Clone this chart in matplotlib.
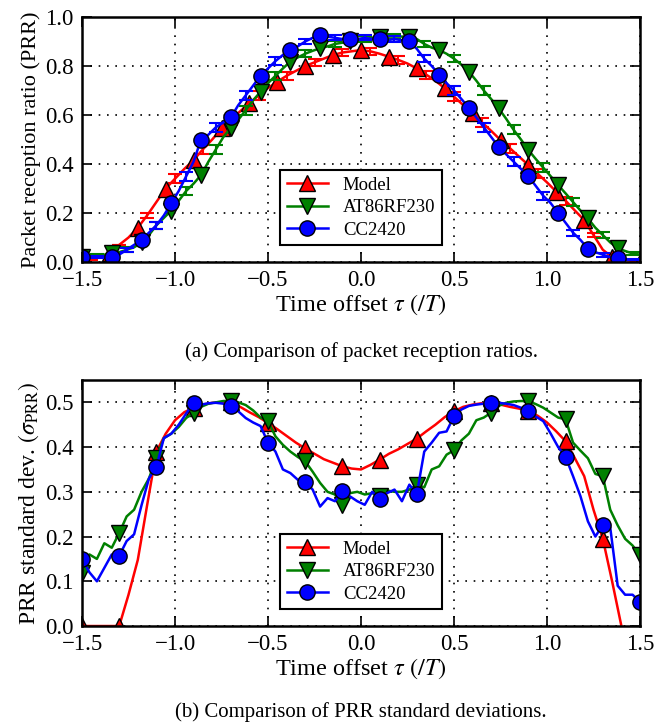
import numpy as np
import matplotlib.pyplot as plt

plt.rcParams['font.family'] = 'serif'
plt.rcParams['font.serif'] = ['Liberation Serif', 'DejaVu Serif']
plt.rcParams['mathtext.fontset'] = 'stix'

# model values on a 0.05 grid, measurements on a 0.04 grid
x_model = np.linspace(-1.5, 1.5, 61)
x_meas = np.linspace(-1.5, 1.5, 76)

# packet reception ratio
prr_model = [0.01, 0.01, 0.02, 0.035, 0.07, 0.10, 0.14, 0.19, 0.245, 0.30,
             0.34, 0.38, 0.416, 0.46, 0.50, 0.545, 0.58, 0.615, 0.648, 0.68,
             0.71, 0.736, 0.76, 0.78, 0.80, 0.815, 0.83, 0.845, 0.855, 0.86,
             0.865, 0.86, 0.85, 0.838, 0.825, 0.81, 0.79, 0.765, 0.74, 0.709,
             0.675, 0.64, 0.607, 0.57, 0.535, 0.498, 0.465, 0.43, 0.396, 0.36,
             0.325, 0.287, 0.25, 0.21, 0.171, 0.11, 0.05, 0.02, 0.01, 0.005,
             0.0]
prr_at86 = [0.02, 0.02, 0.025, 0.03, 0.035, 0.04, 0.05, 0.06,
            0.08, 0.11, 0.15, 0.18, 0.21, 0.25, 0.29, 0.32,
            0.355, 0.41, 0.46, 0.51, 0.548, 0.58, 0.62, 0.66,
            0.695, 0.73, 0.76, 0.79, 0.818, 0.835, 0.85, 0.862,
            0.872, 0.88, 0.89, 0.895, 0.90, 0.905, 0.91, 0.915,
            0.92, 0.92, 0.92, 0.92, 0.92, 0.91, 0.89, 0.875,
            0.865, 0.85, 0.83, 0.805, 0.777, 0.74, 0.70, 0.665,
            0.627, 0.585, 0.54, 0.50, 0.457, 0.42, 0.385, 0.35,
            0.314, 0.28, 0.245, 0.21, 0.178, 0.14, 0.11, 0.08,
            0.056, 0.045, 0.035, 0.03]
prr_cc2420 = [0.02, 0.02, 0.02, 0.02, 0.02, 0.03, 0.05, 0.07,
              0.09, 0.12, 0.15, 0.19, 0.24, 0.29, 0.35, 0.41,
              0.50, 0.52, 0.55, 0.57, 0.59, 0.64, 0.68, 0.72,
              0.76, 0.79, 0.82, 0.845, 0.865, 0.88, 0.90, 0.915,
              0.925, 0.92, 0.915, 0.91, 0.91, 0.91, 0.915, 0.91,
              0.91, 0.905, 0.91, 0.905, 0.90, 0.87, 0.83, 0.80,
              0.765, 0.73, 0.70, 0.665, 0.63, 0.59, 0.55, 0.51,
              0.47, 0.44, 0.41, 0.38, 0.35, 0.31, 0.27, 0.24,
              0.20, 0.16, 0.12, 0.09, 0.055, 0.04, 0.03, 0.02,
              0.015, 0.01, 0.01, 0.01]

# PRR standard deviation
std_model = [0.0, 0.0, 0.0, 0.0, 0.0, 0.07, 0.148, 0.27, 0.39, 0.43,
             0.46, 0.478, 0.488, 0.495, 0.499, 0.50, 0.50, 0.49, 0.478, 0.467,
             0.454, 0.44, 0.425, 0.41, 0.397, 0.385, 0.373, 0.365, 0.357, 0.352,
             0.35, 0.36, 0.372, 0.385, 0.395, 0.407, 0.419, 0.435, 0.45, 0.467,
             0.48, 0.49, 0.495, 0.498, 0.499, 0.495, 0.49, 0.486, 0.48, 0.47,
             0.455, 0.435, 0.413, 0.375, 0.335, 0.26, 0.195, 0.10, 0.0, -0.1,
             -0.2]
std_at86 = [0.118, 0.16, 0.15, 0.185, 0.175, 0.208, 0.245, 0.26,
            0.30, 0.33, 0.376, 0.42, 0.43, 0.445, 0.465, 0.477,
            0.49, 0.497, 0.50, 0.503, 0.503, 0.50, 0.494, 0.482,
            0.466, 0.458, 0.424, 0.405, 0.39, 0.378, 0.368, 0.345,
            0.32, 0.30, 0.294, 0.271, 0.297, 0.30, 0.294, 0.297,
            0.29, 0.303, 0.30, 0.30, 0.305, 0.316, 0.31, 0.35,
            0.357, 0.383, 0.393, 0.415, 0.43, 0.46, 0.466, 0.477,
            0.492, 0.499, 0.502, 0.503, 0.503, 0.496, 0.488, 0.477,
            0.466, 0.462, 0.41, 0.392, 0.375, 0.34, 0.335, 0.26,
            0.225, 0.195, 0.18, 0.159]
std_cc2420 = [0.15, 0.12, 0.10, 0.13, 0.16, 0.157, 0.19, 0.205,
              0.27, 0.33, 0.356, 0.42, 0.43, 0.45, 0.475, 0.499,
              0.495, 0.498, 0.499, 0.497, 0.492, 0.48, 0.465, 0.455,
              0.447, 0.41, 0.39, 0.35, 0.342, 0.327, 0.322, 0.305,
              0.267, 0.286, 0.279, 0.301, 0.29, 0.279, 0.271, 0.30,
              0.285, 0.297, 0.305, 0.279, 0.316, 0.295, 0.39, 0.41,
              0.432, 0.435, 0.469, 0.484, 0.492, 0.495, 0.497, 0.499,
              0.499, 0.497, 0.494, 0.488, 0.48, 0.468, 0.458, 0.43,
              0.40, 0.378, 0.335, 0.29, 0.234, 0.20, 0.226, 0.22,
              0.09, 0.07, 0.07, 0.054]

n_trials = 700  # error bars: standard error of the mean

series = [
    ('Model', x_model, prr_model, std_model, 'r', '^', 3, (1, 3), 4),
    ('AT86RF230', x_meas, prr_at86, std_at86, 'g', 'v', 4, (2, 4), 5),
    ('CC2420', x_meas, prr_cc2420, std_cc2420, 'b', 'o', 4, (2, 4), 5),
]

fig = plt.figure(figsize=(6.54, 7.26), dpi=100)
ax1 = fig.add_axes([0.1254, 0.6391, 0.8532, 0.3375])
ax2 = fig.add_axes([0.1254, 0.1377, 0.8532, 0.3389])

for name, x, prr, std, c, m, me_top, ee, me_bot in series:
    err = np.clip(np.array(std), 0, None) / np.sqrt(n_trials)
    ax1.errorbar(x, prr, yerr=err, fmt='none', ecolor=c, elinewidth=1.5,
                 capsize=5, capthick=1.5, errorevery=ee)
    ax1.plot(x, prr, color=c, lw=1.8, marker=m, markevery=me_top,
             ms=12 if m != 'o' else 11, mfc=c, mec='k', mew=1, label=name)
    ax2.plot(x, std, color=c, lw=1.8, marker=m, markevery=me_bot,
             ms=12 if m != 'o' else 11, mfc=c, mec='k', mew=1, label=name)

for ax, top, step in [(ax1, 1.0, 0.2), (ax2, 0.55, 0.1)]:
    ax.set_xlim(-1.5, 1.5)
    ax.set_ylim(0, top)
    ax.set_xticks(np.arange(-1.5, 1.51, 0.5))
    ax.set_yticks(np.arange(0, top + 1e-6, step))
    ax.grid(True, color='k', linestyle=(0, (1, 4)), linewidth=1.2)
    ax.tick_params(direction='in', top=True, right=True, length=7, width=1.2,
                   labelsize=16.5, pad=6)
    for sp in ax.spines.values():
        sp.set_linewidth(1.8)
    ax.set_xlabel(r'Time offset $\tau\ (/T)$', fontsize=17.5, labelpad=1)
    leg = ax.legend(loc='lower center', bbox_to_anchor=(0.5, 0.03),
                    numpoints=1, fontsize=13.5, fancybox=False,
                    handlelength=2.2, labelspacing=0.28, borderpad=0.35,
                    framealpha=1)
    leg.get_frame().set_edgecolor('k')
    leg.get_frame().set_linewidth(1.5)

ax1.set_ylabel('Packet reception ratio (PRR)', fontsize=16, labelpad=3)
ax2.set_ylabel(r'PRR standard dev. $(\sigma_{\mathrm{PRR}})$', fontsize=17,
               labelpad=3)

fig.text(0.552, 1 - 352 / 726, '(a) Comparison of packet reception ratios.',
         ha='center', va='center', fontsize=15)
fig.text(0.552, 1 - 712 / 726, '(b) Comparison of PRR standard deviations.',
         ha='center', va='center', fontsize=15)

fig.savefig('out.png', dpi=100)
